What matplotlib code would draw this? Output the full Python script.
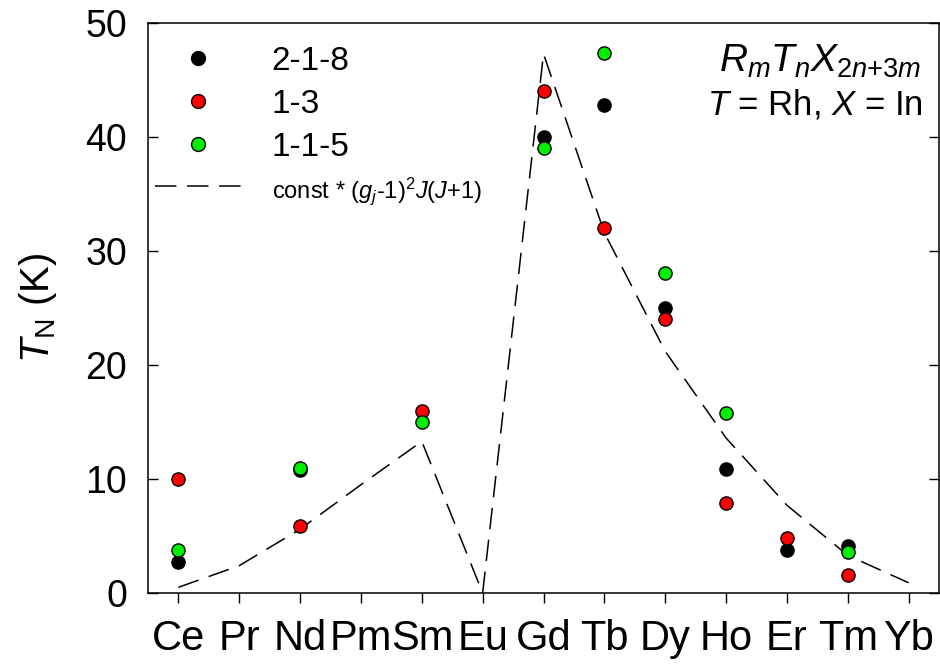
import matplotlib
matplotlib.use("Agg")
import matplotlib.pyplot as plt
import numpy as np

plt.rcParams["font.family"] = ["Liberation Sans", "DejaVu Sans"]
plt.rcParams["mathtext.fontset"] = "custom"
plt.rcParams["mathtext.rm"] = "Liberation Sans"
plt.rcParams["mathtext.it"] = "Liberation Sans:italic"
plt.rcParams["mathtext.bf"] = "Liberation Sans:bold"

# rare earth elements on the x axis
elements = ["Ce", "Pr", "Nd", "Pm", "Sm", "Eu", "Gd", "Tb", "Dy", "Ho", "Er", "Tm", "Yb"]

# T_N (K) for each family, None = no point
tn_218 = [2.75, None, 10.8, None, None, None, 40.0, 42.8, 25.0, 10.9, 3.8, 4.15, None]
tn_13 = [10.0, None, 5.9, None, 16.0, None, 44.0, 32.0, 24.0, 7.9, 4.8, 1.6, None]
tn_115 = [3.8, None, 11.0, None, 15.0, None, 39.0, 47.4, 28.1, 15.8, None, 3.6, None]

# de Gennes scaling curve
dg_curve = [0.5, 2.4, 5.6, 9.5, 13.3, 0.0, 47.3, 31.6, 21.2, 13.6, 7.7, 3.3, 0.9]

fig = plt.figure(figsize=(9.4, 6.71), dpi=100)
ax = fig.add_axes([0.1574, 0.1162, 0.8416, 0.8495])

x = np.arange(len(elements))

def pts(vals):
    xs = [i for i, v in enumerate(vals) if v is not None]
    ys = [v for v in vals if v is not None]
    return xs, ys

ms = 9.5
xs, ys = pts(tn_218)
ax.plot(xs, ys, "o", color="black", mec="black", mew=1, ms=ms, label="2-1-8", zorder=3)
xs, ys = pts(tn_13)
ax.plot(xs, ys, "o", color="#ff0000", mec="black", mew=1, ms=ms, label="1-3", zorder=4)
xs, ys = pts(tn_115)
ax.plot(xs, ys, "o", color="#00ee00", mec="black", mew=1, ms=ms, label="1-1-5", zorder=5)
ax.plot(x, dg_curve, color="black", lw=1.1, dashes=(14, 7),
        label=r"const * ($g_j$-1)$^2$$J$($J$+1)", zorder=2)

ax.set_xlim(-0.5, 12.5)
ax.set_ylim(0, 50)
ax.set_xticks(x)
ax.set_xticklabels(elements)
ax.set_yticks(np.arange(0, 51, 10))

ax.tick_params(axis="x", direction="out", length=7, width=1, labelsize=30, pad=12)
ax.tick_params(axis="y", direction="in", length=7, width=1, labelsize=27,
               right=True, pad=15)
for s in ax.spines.values():
    s.set_linewidth(1.1)

ax.set_ylabel(r"$T_\mathrm{N}$ (K)", fontsize=29, labelpad=19)

leg = ax.legend(loc="upper left", frameon=False, fontsize=24, handlelength=2.6,
                handletextpad=0.9, labelspacing=0.36, borderaxespad=0, borderpad=0,
                markerscale=1.05, bbox_to_anchor=(0.009, 0.96))
leg.get_texts()[3].set_fontsize(17)

ax.text(0.978, 0.915, r"$R_mT_nX_{2n{+}3m}$", transform=ax.transAxes,
        ha="right", va="baseline", fontsize=28)
ax.text(0.98, 0.84, r"$T$ = Rh, $X$ = In", transform=ax.transAxes,
        ha="right", va="baseline", fontsize=25)

fig.savefig("out.png", dpi=100)
